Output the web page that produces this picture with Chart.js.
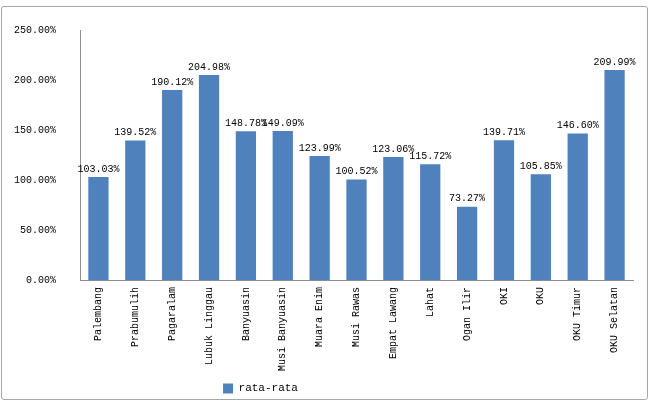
<!DOCTYPE html>
<html>
<head>
<meta charset="utf-8">
<script src="https://cdn.jsdelivr.net/npm/chart.js@4/dist/chart.umd.min.js"></script>
<style>
  body { margin: 0; background: #fff; }
  #wrap { position: relative; width: 650px; height: 404px; }
  #frame { position: absolute; left: 1px; top: 6px; width: 645px; height: 392px; border: 1px solid #a6a6a6; border-radius: 3px; }
  canvas { position: absolute; left: 0; top: 0; }
</style>
</head>
<body>
<div id="wrap">
  <div id="frame"></div>
  <canvas id="grafico" width="650" height="404"></canvas>
</div>
<script>
var kabupaten = ['Palembang', 'Prabumulih', 'Pagaralam', 'Lubuk Linggau', 'Banyuasin', 'Musi Banyuasin',
  'Muara Enim', 'Musi Rawas', 'Empat Lawang', 'Lahat', 'Ogan Ilir', 'OKI', 'OKU', 'OKU Timur', 'OKU Selatan'];
var rataRata = [103.03, 139.52, 190.12, 204.98, 148.78, 149.09, 123.99, 100.52, 123.06, 115.72, 73.27, 139.71, 105.85, 146.60, 209.99];

var fonte = 'Liberation Mono, DejaVu Sans Mono, monospace';

function formatarPersen(v) {
  return v.toFixed(2) + '%';
}

// rotulos de valor por cima das barras
var rotulosValor = {
  id: 'rotulosValor',
  afterDatasetsDraw: function(chart) {
    var ctx = chart.ctx;
    var meta = chart.getDatasetMeta(0);
    ctx.save();
    ctx.font = '10px ' + fonte;
    ctx.fillStyle = '#000';
    ctx.textAlign = 'center';
    ctx.textBaseline = 'bottom';
    meta.data.forEach(function(barra, i) {
      ctx.fillText(formatarPersen(rataRata[i]), barra.x, barra.y - 3);
    });
    ctx.restore();
  }
};

// legenda um pouco mais para a esquerda, como no original
var moverLegenda = {
  id: 'moverLegenda',
  afterLayout: function(chart) {
    chart.legend.left -= 56;
    chart.legend.right -= 56;
  }
};

new Chart(document.getElementById('grafico').getContext('2d'), {
  type: 'bar',
  data: {
    labels: kabupaten,
    datasets: [{
      label: 'rata-rata',
      data: rataRata,
      backgroundColor: '#4f81bd',
      borderWidth: 0,
      barPercentage: 0.55,
      categoryPercentage: 1
    }]
  },
  options: {
    responsive: false,
    animation: false,
    layout: { padding: { top: 24, right: 17, bottom: 0, left: 0 } },
    plugins: {
      legend: {
        position: 'bottom',
        labels: {
          boxWidth: 10,
          boxHeight: 10,
          padding: 6,
          color: '#000',
          font: { family: fonte, size: 11 }
        }
      },
      tooltip: { enabled: false }
    },
    scales: {
      x: {
        grid: { display: false, drawTicks: false },
        border: { display: true, color: '#8c8c8c' },
        ticks: {
          minRotation: 90,
          maxRotation: 90,
          padding: 7,
          color: '#000',
          font: { family: fonte, size: 10 }
        },
        afterFit: function(eixo) { eixo.height = 97; }
      },
      y: {
        min: 0,
        max: 250,
        grid: { display: false, drawTicks: false },
        border: { display: true, color: '#8c8c8c' },
        ticks: {
          stepSize: 50,
          padding: 24,
          color: '#000',
          font: { family: fonte, size: 10 },
          callback: function(v) { return formatarPersen(v); }
        },
        afterFit: function(eixo) { eixo.width = 80; }
      }
    }
  },
  plugins: [rotulosValor, moverLegenda]
});
</script>
</body>
</html>
